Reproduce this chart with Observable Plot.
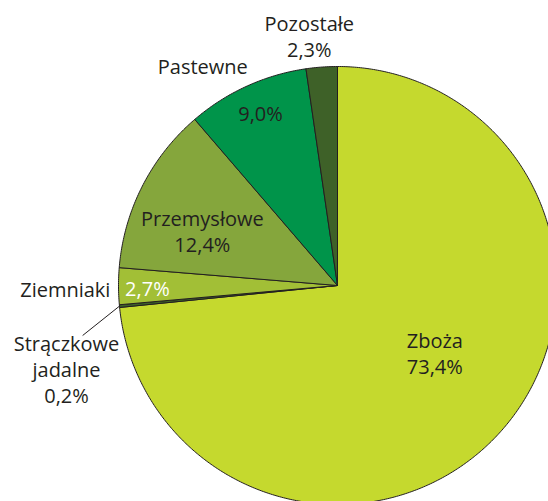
<!DOCTYPE html>
<html><head><meta charset="utf-8">
<script src="https://cdn.jsdelivr.net/npm/d3@7"></script>
<script src="https://cdn.jsdelivr.net/npm/@observablehq/plot@0.6"></script>
<style>body{margin:0;background:#fff}#chart svg{display:block}</style>
</head><body><div id="chart"></div>
<script>
// Data
const categories = ["Zboża", "Strączkowe jadalne", "Ziemniaki", "Przemysłowe", "Pastewne", "Pozostałe"];
const shares = [73.4, 0.2, 2.7, 12.4, 9.0, 2.3];
const valueLabels = ["73,4%", "0,2%", "2,7%", "12,4%", "9,0%", "2,3%"];
const sliceColors = ["#c5d92e", "#3e6128", "#a2bf36", "#85a63c", "#00944a", "#3e6128"];

// Slice geometry (angles clockwise from 12 o'clock, unit radius)
const total = d3.sum(shares);
let acc = 0;
const slices = categories.map((c, i) => {
  const a0 = acc / total * 360;
  acc += shares[i];
  const a1 = acc / total * 360;
  return {c, a0, a1, mid: (a0 + a1) / 2};
});
const rad = a => a * Math.PI / 180;
const px = (a, k) => k * Math.sin(rad(a));
const py = (a, k) => -k * Math.cos(rad(a));

const piePts = [];
slices.forEach(s => {
  piePts.push({c: s.c, x: 0, y: 0});
  const n = Math.max(2, Math.ceil((s.a1 - s.a0) / 0.5));
  for (let j = 0; j <= n; j++) {
    const a = s.a0 + (s.a1 - s.a0) * j / n;
    piePts.push({c: s.c, x: px(a, 1), y: py(a, 1)});
  }
  piePts.push({c: s.c, x: 0, y: 0});
});

// Label placement (radial factor + angle tweak relative to slice middle)
const labelPlacement = [
  {i: 0, txt: () => categories[0] + "\n" + valueLabels[0], k: 0.54, da: -7.5, anchor: "middle", fill: "#231f20"},
  {i: 1, txt: () => "Strączkowe\njadalne\n" + valueLabels[1], k: 1.294, da: -11.6, anchor: "middle", fill: "#231f20"},
  {i: 2, txt: () => categories[2], k: 1.037, da: -0.6, anchor: "end", fill: "#231f20"},
  {i: 2, txt: () => valueLabels[2], k: 0.868, da: -0.4, anchor: "middle", fill: "#ffffff"},
  {i: 3, txt: () => categories[3] + "\n" + valueLabels[3], k: 0.666, da: -4.9, anchor: "middle", fill: "#231f20"},
  {i: 4, txt: () => categories[4], k: 1.178, da: -7, anchor: "middle", fill: "#231f20"},
  {i: 4, txt: () => valueLabels[4], k: 0.865, da: 0.5, anchor: "middle", fill: "#231f20"},
  {i: 5, txt: () => categories[5] + "\n" + valueLabels[5], k: 1.148, da: -2.3, anchor: "middle", fill: "#231f20"}
];
const labels = labelPlacement.map(l => {
  const a = slices[l.i].mid + l.da;
  return {x: px(a, l.k), y: py(a, l.k), text: l.txt(), anchor: l.anchor, fill: l.fill};
});
const leader = [{
  x1: px(slices[1].mid, 1), y1: py(slices[1].mid, 1),
  x2: px(slices[1].mid - 5.7, 1.186), y2: py(slices[1].mid - 5.7, 1.186)
}];

const W = 548, H = 501;
const textMark = anchor => Plot.text(labels.filter(d => d.anchor === anchor), {
  x: "x", y: "y", text: "text", fill: "fill", textAnchor: anchor, lineAnchor: "middle",
  lineHeight: 1.3, fontSize: 20, fontFamily: "Open Sans"
});

const chart = Plot.plot({
  width: W, height: H,
  margin: 0,
  x: {domain: [-337 / 219, (W - 337) / 219], range: [0, W], axis: null},
  y: {domain: [-285 / 219, (H - 285) / 219], range: [0, H], axis: null},
  color: {domain: categories, range: sliceColors},
  style: {background: "#fff"},
  marks: [
    Plot.line(piePts, {x: "x", y: "y", z: "c", fill: "c", stroke: "#231f20", strokeWidth: 1, strokeLinejoin: "round", curve: "linear"}),
    Plot.link(leader, {x1: "x1", y1: "y1", x2: "x2", y2: "y2", stroke: "#231f20", strokeWidth: 1}),
    textMark("middle"),
    textMark("end")
  ]
});
document.getElementById("chart").append(chart);
</script>
</body></html>
